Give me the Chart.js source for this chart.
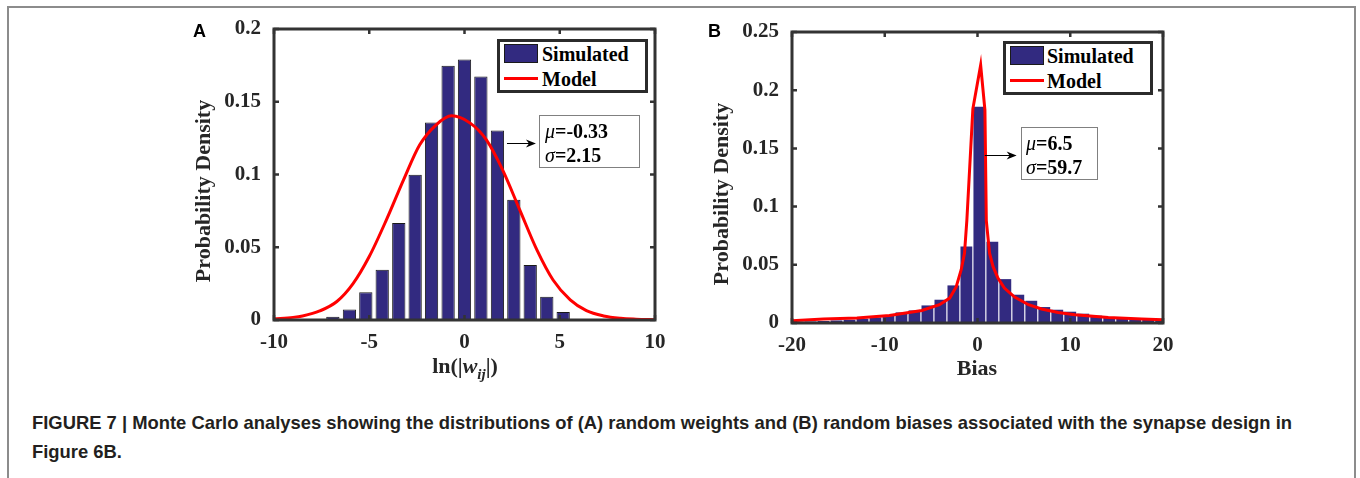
<!DOCTYPE html>
<html><head><meta charset="utf-8">
<script src="https://cdn.jsdelivr.net/npm/chart.js@4.4.1/dist/chart.umd.min.js"></script>
<style>
html,body{margin:0;padding:0;background:#fff;}
#wrap{position:relative;width:1360px;height:478px;overflow:hidden;background:#fff;}
#frame{position:absolute;left:7px;top:6px;width:1349px;height:520px;border:2px solid #8c8c8c;box-sizing:border-box;}
canvas{position:absolute;}
.t{position:absolute;font-family:"Liberation Serif","Times New Roman",serif;font-weight:bold;color:#262626;white-space:nowrap;}
.c{transform:translate(-50%,-50%);}
.yt{transform:translate(-50%,-50%) rotate(-90deg);font-size:22px;line-height:22px;}
.panel{position:absolute;font-family:"Liberation Sans",Arial,sans-serif;font-weight:bold;font-size:18px;line-height:18px;color:#000;}
.leg{position:absolute;box-sizing:border-box;border:3px solid #2b2b2b;background:#fff;}
.leg .sw{position:absolute;box-sizing:border-box;width:34px;height:19px;background:#322a80;border:1px solid #1a1a1a;}
.leg .ln{position:absolute;width:34px;height:3px;background:#ff0000;}
.leg .tx{position:absolute;font-family:"Liberation Serif","Times New Roman",serif;font-weight:bold;font-size:20px;line-height:20px;color:#000;white-space:nowrap;}
.ann{position:absolute;box-sizing:border-box;border:1px solid #808080;background:#fff;}
.ann .tx{position:absolute;font-family:"Liberation Serif","Times New Roman",serif;font-weight:bold;font-size:20px;line-height:24px;color:#000;white-space:nowrap;}
.ann i{font-weight:normal;}
#cap{position:absolute;left:32px;top:408px;font-family:"Liberation Sans",Arial,sans-serif;font-weight:bold;font-size:18.4px;line-height:29px;color:#231f20;white-space:nowrap;}
</style></head>
<body>
<div id="wrap">
  <div id="frame"></div>
  <canvas id="cA" width="500" height="380" style="left:170px;top:10px;width:500px;height:380px"></canvas>
  <canvas id="cB" width="490" height="380" style="left:690px;top:10px;width:490px;height:380px"></canvas>

  <div class="panel" style="left:193px;top:22px">A</div>
  <div class="panel" style="left:708px;top:22px">B</div>

  <div class="t yt" style="left:203px;top:191px">Probability Density</div>
  <div class="t yt" style="left:721px;top:194px">Probability Density</div>

  <div class="t c" style="left:465px;top:370px;font-size:22px;line-height:22px">ln(|<i>w</i><sub style="font-size:15px;vertical-align:-6px"><i>ij</i></sub>|)</div>
  <div class="t c" style="left:977px;top:368px;font-size:22px;line-height:22px">Bias</div>

  <div class="leg" style="left:497px;top:39px;width:151px;height:54px">
    <div class="sw" style="left:4px;top:2px"></div>
    <div class="tx" style="left:42px;top:2px">Simulated</div>
    <div class="ln" style="left:4px;top:35px"></div>
    <div class="tx" style="left:42px;top:27px">Model</div>
  </div>
  <div class="leg" style="left:1003px;top:41px;width:150px;height:54px">
    <div class="sw" style="left:4px;top:2px"></div>
    <div class="tx" style="left:41px;top:2px">Simulated</div>
    <div class="ln" style="left:4px;top:35px"></div>
    <div class="tx" style="left:41px;top:27px">Model</div>
  </div>

  <div class="ann" style="left:539px;top:115px;width:101px;height:53px">
    <div class="tx" style="left:5px;top:3px"><i>μ</i>=-0.33</div>
    <div class="tx" style="left:5px;top:27px"><i>σ</i>=2.15</div>
  </div>
  <div class="ann" style="left:1021px;top:127px;width:77px;height:53px">
    <div class="tx" style="left:4px;top:3px"><i>μ</i>=6.5</div>
    <div class="tx" style="left:4px;top:27px"><i>σ</i>=59.7</div>
  </div>

  <div id="cap">FIGURE 7 | Monte Carlo analyses showing the distributions of (A) random weights and (B) random biases associated with the synapse design in<br>Figure 6B.</div>
</div>
<script>
// ---------- Panel A data ----------
const xTicksA = [-10, -5, 0, 5, 10];
const yTicksA = [0, 0.05, 0.1, 0.15, 0.2];
const binCentersA = [-6.91, -6.04, -5.18, -4.32, -3.45, -2.59, -1.73, -0.86, 0.00, 0.86, 1.73, 2.59, 3.45, 4.32, 5.18];
const simulatedA = [0.0023, 0.0073, 0.019, 0.0346, 0.0667, 0.0998, 0.1358, 0.1748, 0.1791, 0.1674, 0.1302, 0.0826, 0.0378, 0.016, 0.0055];
const modelXA = [-10, -9, -8.5, -7.6, -6.7, -5.85, -5.0, -4.1, -3.2, -2.35, -1.5, -0.68, 0.3, 1.15, 2.0, 2.9, 3.8, 4.65, 5.55, 6.4, 7.3, 8.2, 9.0, 10];
const modelYA = [0.0008, 0.0018, 0.0028, 0.0062, 0.0127, 0.025, 0.0436, 0.0688, 0.0963, 0.1204, 0.134, 0.1403, 0.1353, 0.1238, 0.1032, 0.0757, 0.0482, 0.0275, 0.0138, 0.0064, 0.0028, 0.0012, 0.0006, 0.0002];

// ---------- Panel B data ----------
const xTicksB = [-20, -10, 0, 10, 20];
const yTicksB = [0, 0.05, 0.1, 0.15, 0.2, 0.25];
const binCentersB = [-19.4, -18.0, -16.6, -15.2, -13.8, -12.4, -11.0, -9.6, -8.2, -6.8, -5.4, -4.0, -2.6, -1.2, 0.2, 1.6, 3.0, 4.4, 5.8, 7.2, 8.6, 10.0, 11.4, 12.8, 14.2, 15.6, 17.0, 18.4, 19.8];
const simulatedB = [0.0010, 0.0013, 0.0017, 0.0022, 0.0028, 0.0037, 0.0048, 0.0063, 0.0091, 0.0108, 0.0151, 0.0200, 0.0323, 0.0657, 0.1858, 0.0697, 0.0377, 0.0243, 0.0191, 0.0137, 0.0114, 0.0097, 0.0080, 0.0063, 0.0051, 0.0043, 0.0034, 0.0030, 0.0025];
const modelXB = [-20, -16.6, -13.0, -9.5, -6.0, -4.1, -3.0, -2.3, -1.75, -1.4, -1.15, -0.5, 0.34, 0.8, 0.95, 1.3, 1.67, 2.2, 2.9, 4.0, 5.5, 6.9, 8.7, 10.5, 14.1, 17.7, 20];
const modelYB = [0.0020, 0.0034, 0.0043, 0.0065, 0.0108, 0.0157, 0.0214, 0.031, 0.046, 0.060, 0.088, 0.184, 0.2215, 0.183, 0.088, 0.060, 0.0486, 0.0386, 0.030, 0.0223, 0.0157, 0.012, 0.0091, 0.0071, 0.0048, 0.0034, 0.0028];

const BAR = '#322a80';
const RED = '#ff0000';
const TICKFONT = {family: '"Liberation Serif", "Times New Roman", serif', size: 21, weight: 'bold'};

const framePlugin = {
  id: 'matFrame',
  afterDraw(chart, args, opts) {
    const {ctx, chartArea: a, scales} = chart;
    ctx.save();
    ctx.strokeStyle = '#333333';
    ctx.lineWidth = 2.5;
    const tl = 5;
    ctx.beginPath();
    scales.x.ticks.forEach(t => {
      const px = scales.x.getPixelForValue(t.value);
      ctx.moveTo(px, a.bottom); ctx.lineTo(px, a.bottom - tl);
      ctx.moveTo(px, a.top); ctx.lineTo(px, a.top + tl);
    });
    scales.y.ticks.forEach(t => {
      const py = scales.y.getPixelForValue(t.value);
      ctx.moveTo(a.left, py); ctx.lineTo(a.left + tl, py);
      ctx.moveTo(a.right, py); ctx.lineTo(a.right - tl, py);
    });
    ctx.stroke();
    ctx.lineWidth = 3;
    ctx.strokeRect(a.left, a.top, a.right - a.left, a.bottom - a.top);
    if (opts && opts.arrow) {
      const ar = opts.arrow;
      const x1 = scales.x.getPixelForValue(ar.x1);
      const x2 = scales.x.getPixelForValue(ar.x2);
      const y = Math.round(scales.y.getPixelForValue(ar.y)) + 0.5;
      ctx.strokeStyle = '#000'; ctx.fillStyle = '#000'; ctx.lineWidth = 1;
      ctx.beginPath(); ctx.moveTo(x1, y); ctx.lineTo(x2 - 6, y); ctx.stroke();
      ctx.beginPath(); ctx.moveTo(x2, y); ctx.lineTo(x2 - 10, y - 4); ctx.lineTo(x2 - 7, y); ctx.lineTo(x2 - 10, y + 4); ctx.closePath(); ctx.fill();
    }
    ctx.restore();
  }
};

function makeChart(id, cfg) {
  const pts = (xs, ys) => xs.map((x, i) => ({x: x, y: ys[i]}));
  return new Chart(document.getElementById(id), {
    type: 'bar',
    data: {
      datasets: [
        {type: 'line', label: 'Model', data: pts(cfg.mx, cfg.my), borderColor: RED, borderWidth: 3,
         pointRadius: 0, fill: false, tension: 0, cubicInterpolationMode: cfg.smooth ? 'monotone' : 'default'},
        {type: 'bar', label: 'Simulated', data: pts(cfg.bx, cfg.by), backgroundColor: BAR,
         borderColor: cfg.barBorder, borderWidth: cfg.barBorderWidth, borderSkipped: false,
         barPercentage: cfg.barPct, categoryPercentage: 1}
      ]
    },
    options: {
      responsive: false, maintainAspectRatio: false, animation: false, devicePixelRatio: 1, events: [],
      layout: {padding: cfg.padding},
      plugins: {legend: {display: false}, tooltip: {enabled: false}, matFrame: {arrow: cfg.arrow}},
      scales: {
        x: {type: 'linear', min: cfg.xmin, max: cfg.xmax, offset: false,
            grid: {display: false, drawTicks: false}, border: {display: false},
            ticks: {font: TICKFONT, color: '#262626', padding: 10, maxRotation: 0, autoSkip: false, callback: v => String(v)},
            afterBuildTicks: s => { s.ticks = cfg.xt.map(v => ({value: v})); },
            afterFit: s => { s.height = cfg.xh; s.paddingLeft = 0; s.paddingRight = 0; s.paddingTop = 0; s.paddingBottom = 0; }},
        y: {type: 'linear', min: 0, max: cfg.ymax,
            grid: {display: false, drawTicks: false}, border: {display: false},
            ticks: {font: TICKFONT, color: '#262626', padding: 13, autoSkip: false, callback: v => String(v)},
            afterBuildTicks: s => { s.ticks = cfg.yt.map(v => ({value: v})); },
            afterFit: s => { s.width = cfg.yw; s.paddingTop = 0; s.paddingBottom = 0; s.paddingLeft = 0; s.paddingRight = 0; }}
      }
    },
    plugins: [framePlugin]
  });
}

makeChart('cA', {
  mx: modelXA, my: modelYA, bx: binCentersA, by: simulatedA, xt: xTicksA, yt: yTicksA,
  xmin: -10, xmax: 10, ymax: 0.2, smooth: true,
  barBorder: '#1a1a1a', barBorderWidth: 1, barPct: 0.81,
  padding: {left: 0, right: 15, top: 19, bottom: 0}, xh: 70, yw: 104,
  arrow: {x1: 2.23, x2: 3.75, y: 0.1218}
});
makeChart('cB', {
  mx: modelXB, my: modelYB, bx: binCentersB, by: simulatedB, xt: xTicksB, yt: yTicksB,
  xmin: -20, xmax: 20, ymax: 0.25, smooth: false,
  barBorder: BAR, barBorderWidth: 0, barPct: 0.91,
  padding: {left: 0, right: 17, top: 22, bottom: 0}, xh: 67, yw: 102,
  arrow: {x1: 0.78, x2: 4.22, y: 0.1443}
});
</script>
</body></html>
